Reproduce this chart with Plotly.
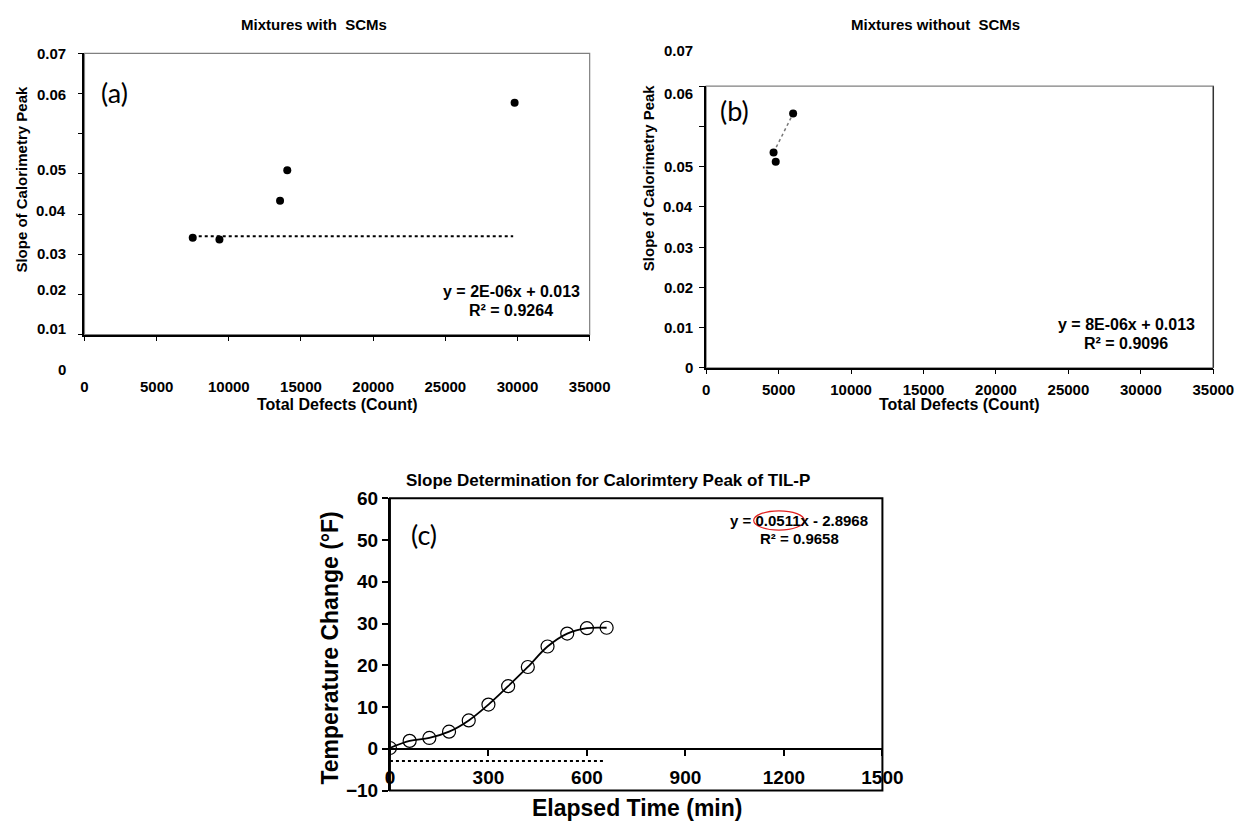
import plotly.graph_objects as go

# ---------------- data ----------------
# (a) Mixtures with SCMs
a_defects = [7500, 9350, 13550, 14050, 29800]
a_slope = [0.0241, 0.0237, 0.0333, 0.0409, 0.0577]
a_trend_x = [7500, 29700]
a_trend_y = [0.0245, 0.0245]
a_equation = "y = 2E-06x + 0.013"
a_r2 = "R² = 0.9264"

# (b) Mixtures without SCMs
b_defects = [4650, 4800, 6000]
b_slope = [0.0535, 0.0512, 0.0632]
b_trend_x = [4650, 6000]
b_trend_y = [0.0535, 0.0632]
b_equation = "y = 8E-06x + 0.013"
b_r2 = "R² = 0.9096"

# (c) Slope determination for calorimetry peak of TIL-P
c_time = [0, 60, 120, 180, 240, 300, 360, 420, 480, 540, 600, 660]
c_temp = [0.2, 1.9, 2.6, 4.1, 6.8, 10.6, 15.0, 19.6, 24.5, 27.6, 28.9, 29.0]
c_trend_x = [0, 650]
c_trend_y = [-2.9, -2.9]
c_equation = "y = 0.0511x - 2.8968"
c_r2 = "R² = 0.9658"

defect_ticks = [0, 5000, 10000, 15000, 20000, 25000, 30000, 35000]
defect_labels = ["0", "5000", "10000", "15000", "20000", "25000", "30000", "35000"]
slope_ticks = [0, 0.01, 0.02, 0.03, 0.04, 0.05, 0.06, 0.07]
slope_labels = ["0", "0.01", "0.02", "0.03", "0.04", "0.05", "0.06", "0.07"]
temp_ticks = [-10, 0, 10, 20, 30, 40, 50, 60]
time_ticks = [0, 300, 600, 900, 1200, 1500]

# ---------------- layout helpers ----------------
PAGE_W, PAGE_H = 1258, 831
OFF = 8  # default page margin of the html body
W, H = PAGE_W - 2 * OFF, PAGE_H - 2 * OFF
FONT = "Liberation Sans, Arial, sans-serif"
LBL = "Lato, Open Sans, sans-serif"


def fx(p):
    return (p - OFF) / W


def fy(p):
    return 1 - (p - OFF) / H


# subplot boxes in page pixels
A = dict(l=81, r=597, t=44.3, b=333)
B = dict(l=716, r=1234, t=78, b=367)
C = dict(l=393, r=896, t=501, b=801)

# label placements of the (distorted) source picture, in axis units
a_label_pos = [-0.0086, 0.0015, 0.0112, 0.0201, 0.0310, 0.0412, 0.0597, 0.07]
b_label_pos = [0, 0.01, 0.02, 0.03, 0.04, 0.05, 0.0683, 0.0788]


def box_y(box, v, vmax=0.07):
    return fy(box["b"]) + (v / vmax) * (fy(box["t"]) - fy(box["b"]))


fig = go.Figure()

fig.add_trace(go.Scatter(x=a_trend_x, y=a_trend_y, mode="lines",
                         line=dict(color="black", width=2, dash="dot"),
                         xaxis="x", yaxis="y", showlegend=False))
fig.add_trace(go.Scatter(x=a_defects, y=a_slope, mode="markers",
                         marker=dict(color="black", size=8),
                         xaxis="x", yaxis="y", showlegend=False))

fig.add_trace(go.Scatter(x=b_trend_x, y=b_trend_y, mode="lines",
                         line=dict(color="#777777", width=1.5, dash="dot"),
                         xaxis="x2", yaxis="y2", showlegend=False))
fig.add_trace(go.Scatter(x=b_defects, y=b_slope, mode="markers",
                         marker=dict(color="black", size=8),
                         xaxis="x2", yaxis="y2", showlegend=False))

fig.add_trace(go.Scatter(x=c_trend_x, y=c_trend_y, mode="lines",
                         line=dict(color="black", width=2, dash="dot"),
                         xaxis="x3", yaxis="y3", showlegend=False))
fig.add_trace(go.Scatter(x=c_time, y=c_temp, mode="lines+markers",
                         line=dict(color="black", width=1.8, shape="spline", smoothing=1.0),
                         marker=dict(symbol="circle-open", color="black", size=13,
                                     line=dict(width=1.2, color="black")),
                         xaxis="x3", yaxis="y3", showlegend=False))

tickfont = dict(family=FONT, size=15, color="black", weight="bold")

layout = dict(
    width=W, height=H,
    margin=dict(l=0, r=0, t=0, b=0),
    paper_bgcolor="white", plot_bgcolor="white",
    font=dict(family=FONT, color="black"),
    xaxis=dict(domain=[fx(A["l"]), fx(A["r"])], anchor="y", range=[0, 35000],
               tickvals=defect_ticks, ticktext=defect_labels, ticks="outside", ticklen=5,
               tickcolor="black", showline=True, linecolor="black", linewidth=1.5,
               showgrid=False, zeroline=False, tickfont=tickfont, ticklabelstandoff=33),
    yaxis=dict(domain=[fy(A["b"]), fy(A["t"])], anchor="x", range=[0, 0.07],
               tickvals=slope_ticks, showticklabels=False, ticks="outside", ticklen=5,
               tickcolor="black", showline=True, linecolor="black", linewidth=1.5,
               showgrid=False, zeroline=False),
    xaxis2=dict(domain=[fx(B["l"]), fx(B["r"])], anchor="y2", range=[0, 35000],
                tickvals=defect_ticks, ticktext=defect_labels, ticks="outside", ticklen=5,
                tickcolor="black", showline=True, linecolor="black", linewidth=1.5,
                showgrid=False, zeroline=False, tickfont=tickfont, ticklabelstandoff=3),
    yaxis2=dict(domain=[fy(B["b"]), fy(B["t"])], anchor="x2", range=[0, 0.07],
                tickvals=slope_ticks, showticklabels=False, ticks="outside", ticklen=5,
                tickcolor="black", showline=True, linecolor="black", linewidth=1.5,
                showgrid=False, zeroline=False),
    xaxis3=dict(domain=[fx(C["l"]), fx(C["r"])], anchor="free",
                position=fy(C["b"]) + (fy(C["t"]) - fy(C["b"])) * 10 / 70,
                range=[0, 1500], tickvals=time_ticks, ticks="outside", ticklen=6,
                tickcolor="black", tickwidth=1.5, showline=True, linecolor="black", linewidth=1.5,
                showgrid=False, zeroline=False,
                tickfont=dict(family=FONT, size=19, color="black", weight="bold"),
                ticklabelstandoff=6),
    yaxis3=dict(domain=[fy(C["b"]), fy(C["t"])], anchor="x3", range=[-10, 60],
                tickvals=temp_ticks, ticks="outside", ticklen=6, tickcolor="black", tickwidth=1.5,
                showline=True, linecolor="black", linewidth=2, showgrid=False, zeroline=False,
                tickfont=dict(family=FONT, size=19, color="black", weight="bold")),
)
fig.update_layout(**layout)

shapes = [
    dict(type="rect", xref="x domain", yref="y domain", x0=0, x1=1, y0=0, y1=1,
         line=dict(color="#808080", width=1.2), layer="below"),
    dict(type="rect", xref="x2 domain", yref="y2 domain", x0=0, x1=1, y0=0, y1=1,
         line=dict(color="#808080", width=1.2), layer="below"),
    dict(type="line", xref="x2 domain", yref="y2 domain", x0=1, x1=1, y0=0, y1=1,
         line=dict(color="#333333", width=1.4), layer="below"),
    dict(type="rect", xref="x3 domain", yref="y3 domain", x0=0, x1=1, y0=0, y1=1,
         line=dict(color="black", width=2), layer="above"),
    dict(type="circle", xref="x3", yref="y3", x0=1108, x1=1262, y0=52.4, y1=57.0,
         line=dict(color="#e02020", width=1.2)),
]
fig.update_layout(shapes=shapes)

ann = []
# misplaced y tick labels of (a) and (b)
for v, t in zip(a_label_pos, slope_labels):
    ann.append(dict(xref="paper", yref="paper", x=fx(A["l"] - 17), y=box_y(A, v), text=t,
                    showarrow=False, xanchor="right", yanchor="middle", font=tickfont))
for v, t in zip(b_label_pos, slope_labels):
    ann.append(dict(xref="paper", yref="paper", x=fx(B["l"] - 11), y=box_y(B, v), text=t,
                    showarrow=False, xanchor="right", yanchor="middle", font=tickfont))

bold15 = dict(family=FONT, size=15, color="black", weight="bold")
bold16 = dict(family=FONT, size=16, color="black", weight="bold")


def txt(x, y, s, font, angle=0):
    ann.append(dict(xref="paper", yref="paper", x=fx(x), y=fy(y), text=s, showarrow=False,
                    xanchor="center", yanchor="middle", font=font, textangle=angle))


txt(315, 15, "Mixtures with\u00a0 SCMs", bold15)
txt(950, 15, "Mixtures without\u00a0 SCMs", bold15)
txt(339, 405, "Total Defects (Count)", bold16)
txt(975, 405, "Total Defects (Count)", bold16)
txt(17, 173, "Slope of Calorimetry Peak", bold15, -90)
txt(657, 172, "Slope of Calorimetry Peak", bold15, -90)
txt(517, 289, a_equation, bold16)
txt(517, 308, a_r2, bold16)
txt(1145, 323, b_equation, bold16)
txt(1145, 342, b_r2, bold16)
txt(811, 524, c_equation, bold15)
txt(811, 542, c_r2, bold15)
txt(112, 84, "(a)", dict(family=LBL, size=27, color="black"))
txt(745, 103, "(b)", dict(family=LBL, size=27, color="black"))
txt(428, 538, "(c)", dict(family=LBL, size=27, color="black"))
txt(616, 483, "Slope Determination for Calorimtery Peak of TIL-P",
    dict(family=FONT, size=17, color="black", weight="bold"))
txt(332, 655, "Temperature Change (°F)", dict(family=FONT, size=23, color="black", weight="bold"), -90)
txt(645, 819, "Elapsed Time (min)", dict(family=FONT, size=23, color="black", weight="bold"))

fig.update_layout(annotations=ann)

fig.write_html("out.html")
